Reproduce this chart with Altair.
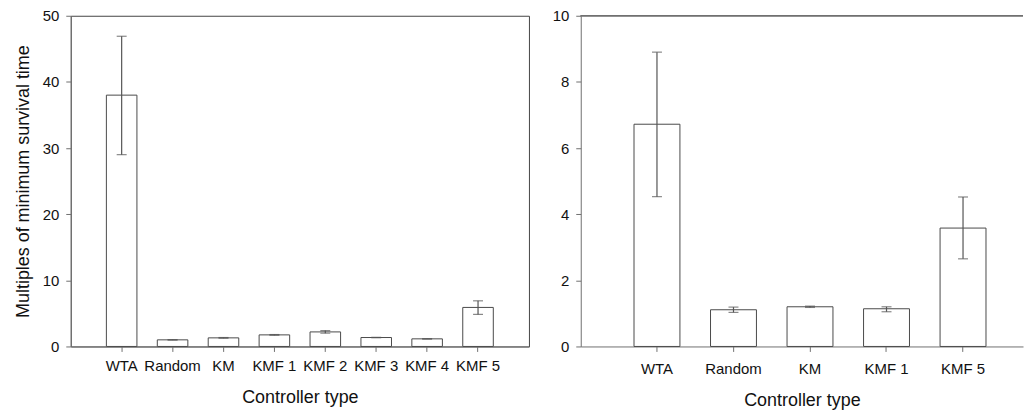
import altair as alt
import pandas as pd

# Left panel data (all controllers)
cats_a = ["WTA", "Random", "KM", "KMF 1", "KMF 2", "KMF 3", "KMF 4", "KMF 5"]
mean_a = [38.0, 1.0, 1.3, 1.75, 2.2, 1.35, 1.15, 5.9]
low_a = [29.0, 0.97, 1.25, 1.7, 2.0, 1.32, 1.12, 4.85]
high_a = [46.9, 1.03, 1.35, 1.8, 2.4, 1.38, 1.18, 6.9]

# Right panel data (subset)
cats_b = ["WTA", "Random", "KM", "KMF 1", "KMF 5"]
mean_b = [6.72, 1.11, 1.2, 1.14, 3.58]
low_b = [4.53, 1.03, 1.18, 1.05, 2.65]
high_b = [8.9, 1.19, 1.22, 1.2, 4.52]

y_ticks_a = [0, 10, 20, 30, 40, 50]
y_ticks_b = [0, 2, 4, 6, 8, 10]

FONT = "Liberation Sans"
BAR_STROKE = "#4a4a4a"
ERR = "#555555"


def panel(cats, means, lows, highs, ymax, yticks, width, pad_outer, align, ytitle,
          frame, xlabpad, xtitlepad):
    df = pd.DataFrame({"cat": cats, "mean": means, "lo": lows, "hi": highs})
    xs = alt.Scale(domain=cats, paddingInner=0.4, paddingOuter=pad_outer, align=align)
    x = alt.X("cat:N", sort=cats, scale=xs,
              axis=alt.Axis(title="Controller type", labelAngle=0, labelPadding=xlabpad,
                            titlePadding=xtitlepad))
    if ytitle:
        yaxis = alt.Axis(values=yticks, format="d", labelPadding=7, titlePadding=10,
                         title=ytitle)
    else:
        yaxis = alt.Axis(values=yticks, format="d", labelPadding=7, title=None)
    y = alt.Y("mean:Q", scale=alt.Scale(domain=[0, ymax], nice=False, zero=True), axis=yaxis)

    base = alt.Chart(df)
    bars = base.mark_bar(fill="white", stroke=BAR_STROKE, strokeWidth=1).encode(x=x, y=y)
    err = base.mark_rule(color=ERR, strokeWidth=1.2).encode(
        x=alt.X("cat:N", sort=cats), y="lo:Q", y2="hi:Q")
    cap_lo = base.mark_tick(color=ERR, size=10, thickness=1.2).encode(
        x=alt.X("cat:N", sort=cats), y="lo:Q")
    cap_hi = base.mark_tick(color=ERR, size=10, thickness=1.2).encode(
        x=alt.X("cat:N", sort=cats), y="hi:Q")
    layers = [bars, err, cap_lo, cap_hi]
    if not frame:
        top = base.mark_rule(color="#707070", strokeWidth=1).encode(
            y=alt.datum(ymax), x=alt.value(0), x2=alt.value(width))
        layers.append(top)
    ch = alt.layer(*layers).properties(width=width, height=332)
    if frame:
        ch = ch.properties(view=alt.ViewBackground(stroke="#444444", strokeWidth=1))
    else:
        ch = ch.properties(view=alt.ViewBackground(strokeWidth=0))
    return ch


left = panel(cats_a, mean_a, low_a, high_a, 50, y_ticks_a, 460, 0.7, 0.5,
             "Multiples of minimum survival time", True, 7, 15)
right = panel(cats_b, mean_b, low_b, high_b, 10, y_ticks_b, 444, 0.59, 0.59,
              None, False, 10, 15)

chart = alt.hconcat(left, right, spacing=22).resolve_scale(
    x="independent", y="independent"
).properties(
    padding={"left": 5, "top": -1, "right": 0, "bottom": 0}
).configure(
    font=FONT
).configure_axis(
    labelFont=FONT, titleFont=FONT, labelFontSize=15, titleFontSize=18,
    titleFontWeight="normal", labelColor="#111111", titleColor="#111111",
    domainColor="#707070", tickColor="#707070", tickSize=5, grid=False,
).configure_view(
    stroke=None
)

chart.save("out.html", embed_options={"renderer": "svg", "actions": False})
